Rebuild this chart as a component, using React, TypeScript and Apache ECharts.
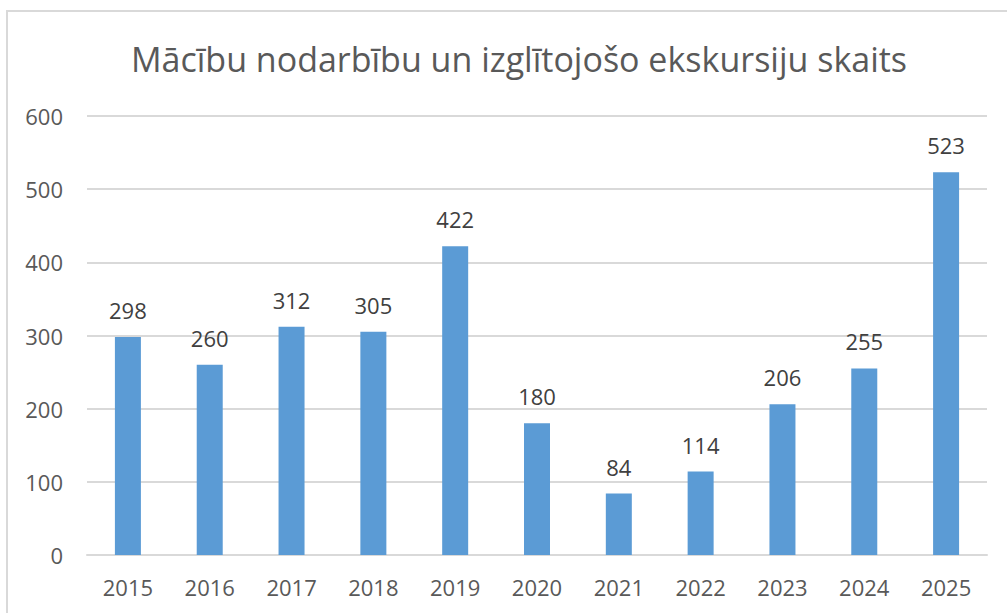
import React, { useEffect, useRef } from "react";
import * as echarts from "echarts";

const categories = ["2015", "2016", "2017", "2018", "2019", "2020", "2021", "2022", "2023", "2024", "2025"];
const values = [298, 260, 312, 305, 422, 180, 84, 114, 206, 255, 523];
const titleText = "Mācību nodarbību un izglītojošo ekskursiju skaits";

export default function App() {
  const ref = useRef<HTMLDivElement>(null);
  useEffect(() => {
    const chart = echarts.init(ref.current!, undefined, { renderer: "svg" });
    chart.setOption({
      animation: false,
      backgroundColor: "#ffffff",
      title: {
        text: titleText,
        left: 126,
        top: 37,
        textStyle: { fontFamily: "Open Sans", fontSize: 34, fontWeight: "normal", color: "#595959" },
      },
      graphic: [
        {
          type: "rect",
          shape: { x: 7, y: 11, width: 1010, height: 620 },
          style: { fill: "none", stroke: "#d9d9d9", lineWidth: 2 },
          silent: true,
        },
      ],
      grid: { left: 87, right: 20, top: 116, bottom: 58, containLabel: false },
      xAxis: {
        type: "category",
        data: categories,
        axisTick: { show: false },
        axisLine: { show: true, lineStyle: { color: "#d9d9d9", width: 2 } },
        axisLabel: { fontFamily: "Open Sans", fontSize: 22, color: "#595959", margin: 21 },
      },
      yAxis: {
        type: "value",
        min: 0,
        max: 600,
        interval: 100,
        axisLine: { show: false },
        axisTick: { show: false },
        splitLine: { lineStyle: { color: "#d9d9d9", width: 2 } },
        axisLabel: { fontFamily: "Open Sans", fontSize: 22, color: "#595959", margin: 24 },
      },
      series: [
        {
          type: "bar",
          data: values,
          barWidth: 26,
          itemStyle: { color: "#5B9BD5" },
          label: {
            show: true,
            position: "top",
            distance: 16,
            fontFamily: "Open Sans",
            fontSize: 22,
            color: "#404040",
          },
        },
      ],
    });
    return () => chart.dispose();
  }, []);
  return <div ref={ref} style={{ position: "fixed", left: 0, top: 0, width: 1007, height: 613 }} />;
}
